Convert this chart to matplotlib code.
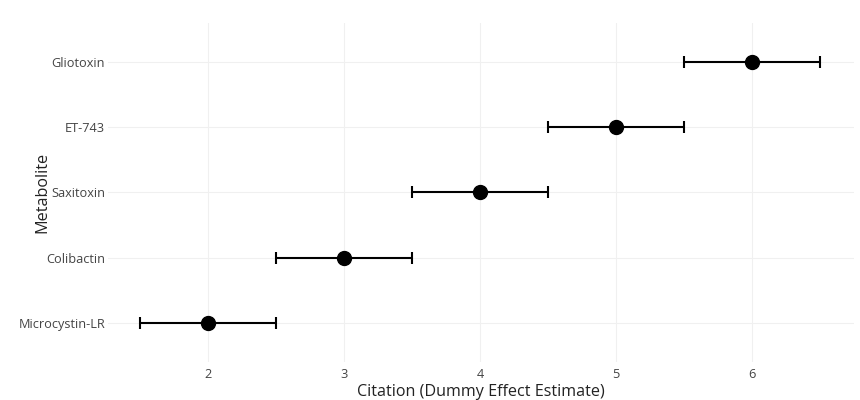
import matplotlib.pyplot as plt

metabolites = ["Microcystin-LR", "Colibactin", "Saxitoxin", "ET-743", "Gliotoxin"]
estimates = [2, 3, 4, 5, 6]
ci_low = [1.5, 2.5, 3.5, 4.5, 5.5]
ci_high = [2.5, 3.5, 4.5, 5.5, 6.5]

plt.rcParams['font.family'] = ['Open Sans', 'DejaVu Sans']

fig = plt.figure(figsize=(8.6, 4.0), dpi=100)
ax = fig.add_axes([108 / 860, 1 - 362 / 400, (854 - 108) / 860, (362 - 23) / 400])

ypos = list(range(len(metabolites)))
err_lo = [e - l for e, l in zip(estimates, ci_low)]
err_hi = [h - e for e, h in zip(estimates, ci_high)]

ax.errorbar(estimates, ypos, xerr=[err_lo, err_hi], fmt='o', color='black',
            ecolor='black', elinewidth=1.5, capsize=4.5, capthick=1.5,
            markersize=10, zorder=3)

ax.set_xlim(1.265, 6.75)
ax.set_ylim(-0.6, 4.6)
ax.set_xticks([2, 3, 4, 5, 6])
ax.set_yticks(ypos)
ax.set_yticklabels(metabolites)

ax.grid(True, color='#f0f0f0', linewidth=0.8)
ax.set_axisbelow(True)
for s in ax.spines.values():
    s.set_visible(False)
ax.tick_params(axis='x', length=0, labelsize=9.2, colors='#444444', pad=4)
ax.tick_params(axis='y', length=0, labelsize=9.2, colors='#444444', pad=2)

ax.set_xlabel("Citation (Dummy Effect Estimate)", fontsize=11.6, color='#222222')
ax.set_ylabel("Metabolite", fontsize=11.6, color='#222222')
ax.xaxis.label.set_va('center')
ax.yaxis.label.set_va('center')
ax.xaxis.set_label_coords(0.5, -0.0885)
ax.yaxis.set_label_coords(-0.0885, 0.5)

plt.savefig("out.png", dpi=100)
